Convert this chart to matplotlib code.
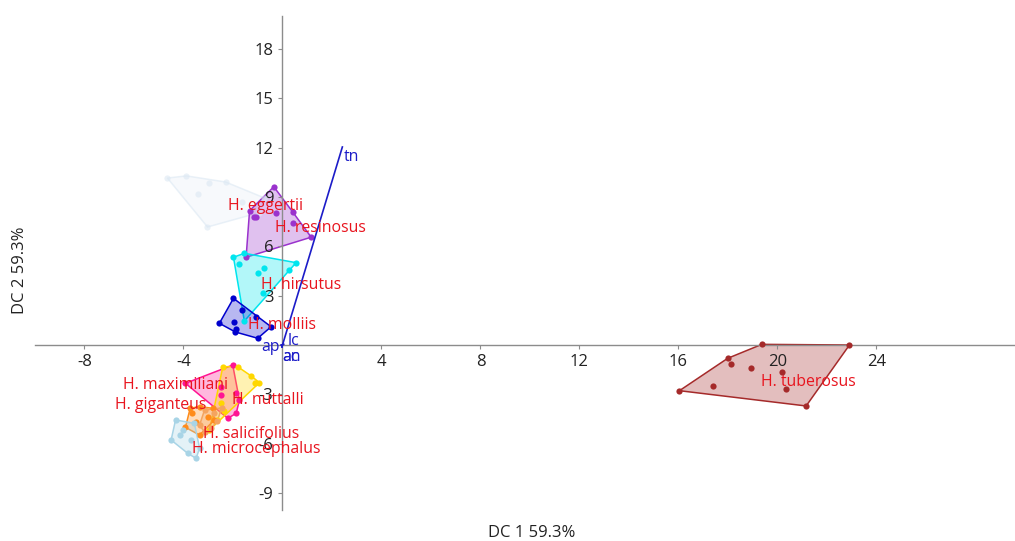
import numpy as np
import matplotlib
matplotlib.use("Agg")
import matplotlib.pyplot as plt

plt.rcParams['font.family'] = ['Open Sans', 'DejaVu Sans']
plt.rcParams['axes.unicode_minus'] = False

# Discriminant scores per taxon (DC 1, DC 2)
faint_x = [-4.65, -3.88, -2.30, -0.73, -3.03, -2.95, -3.43, -1.62, -0.95]
faint_y = [10.16, 10.29, 9.92, 8.95, 7.18, 9.86, 9.19, 8.70, 8.05]

eggertii_x = [-0.35, -1.33, -1.17, -1.05, -0.25, 0.42, 0.42, 1.16, -1.47]
eggertii_y = [9.63, 8.17, 7.81, 7.81, 8.02, 8.08, 7.41, 6.56, 5.34]

hirsutus_x = [-1.98, -1.54, -1.77, -0.73, -0.97, 0.55, 0.25, -0.80, -1.54]
hirsutus_y = [5.34, 5.58, 4.93, 4.67, 4.40, 5.01, 4.56, 3.18, 1.46]

molliis_x = [-1.98, -1.64, -1.06, -2.55, -1.94, -1.87, -1.90, -1.00, -0.46]
molliis_y = [2.84, 2.13, 1.72, 1.32, 1.42, 0.96, 0.79, 0.41, 1.11]

maximiliani_x = [-2.01, -3.92, -2.48, -2.48, -1.87, -1.74, -1.87, -2.21]
maximiliani_y = [-1.22, -2.33, -2.54, -3.04, -2.94, -3.35, -4.16, -4.46]

nuttalli_x = [-2.41, -1.81, -1.26, -1.09, -0.93, -2.48, -2.38, -2.63, -2.95]
nuttalli_y = [-1.32, -1.32, -1.89, -2.29, -2.29, -3.55, -4.02, -4.56, -5.17]

giganteus_x = [-3.73, -3.92, -3.35, -2.82, -3.35, -2.75, -3.02, -3.49, -3.64]
giganteus_y = [-3.85, -5.01, -3.75, -3.85, -5.48, -4.56, -4.36, -4.67, -4.14]

salicifolius_x = [-3.15, -2.75, -2.46, -2.63, -2.87, -3.15, -3.35]
salicifolius_y = [-3.96, -4.14, -3.83, -4.63, -5.05, -5.30, -4.87]

microcephalus_x = [-4.32, -4.50, -4.16, -3.83, -3.49, -3.69, -3.35, -3.56, -4.00]
microcephalus_y = [-4.56, -5.78, -5.48, -6.59, -6.90, -5.78, -6.27, -4.77, -5.17]

tuberosus_x = [19.37, 22.91, 17.99, 18.13, 18.94, 20.19, 20.35, 17.41, 16.04, 21.16]
tuberosus_y = [0.04, 0.00, -0.81, -1.16, -1.42, -1.66, -2.70, -2.50, -2.78, -3.71]

# (x, y, colour, fill alpha, point alpha)
groups = [
    (faint_x, faint_y, '#dce8f3', 0.22, 0.6),
    (eggertii_x, eggertii_y, '#9a32cd', 0.3, 1.0),
    (hirsutus_x, hirsutus_y, '#00e5ee', 0.3, 1.0),
    (molliis_x, molliis_y, '#0000cd', 0.28, 1.0),
    (maximiliani_x, maximiliani_y, '#ff1493', 0.3, 1.0),
    (nuttalli_x, nuttalli_y, '#ffd700', 0.3, 1.0),
    (giganteus_x, giganteus_y, '#ff8c1a', 0.3, 1.0),
    (salicifolius_x, salicifolius_y, '#f4a460', 0.3, 1.0),
    (microcephalus_x, microcephalus_y, '#a8d4e6', 0.3, 1.0),
    (tuberosus_x, tuberosus_y, '#a52a2a', 0.3, 1.0),
]

# Taxon labels (left edge, centre height)
labels = ['H. eggertii', 'H. resinosus', 'H. hirsutus', 'H. molliis', 'H. maximiliani',
          'H. giganteus', 'H. nuttalli', 'H. salicifolius', 'H. microcephalus', 'H. tuberosus']
label_x = [-2.22, -0.32, -0.85, -1.41, -6.46, -6.75, -2.02, -3.23, -3.64, 19.35]
label_y = [8.46, 7.12, 3.65, 1.22, -2.43, -3.65, -3.35, -5.42, -6.33, -2.25]

# Variable loadings
var_names = ['tn', 'ap', 'lc', 'an', 'ac']
var_x = [2.42, -0.05, 0.05, 0.0, 0.0]
var_y = [12.05, 0.0, 0.05, -0.1, -0.1]
var_lx = [2.46, -0.85, 0.20, 0.0, 0.0]
var_ly = [11.44, -0.12, 0.24, -0.73, -0.73]


def hull(xs, ys):
    pts = sorted(set(zip(xs, ys)))
    def cross(o, a, b):
        return (a[0] - o[0]) * (b[1] - o[1]) - (a[1] - o[1]) * (b[0] - o[0])
    lower, upper = [], []
    for p in pts:
        while len(lower) >= 2 and cross(lower[-2], lower[-1], p) <= 0:
            lower.pop()
        lower.append(p)
    for p in reversed(pts):
        while len(upper) >= 2 and cross(upper[-2], upper[-1], p) <= 0:
            upper.pop()
        upper.append(p)
    return np.array(lower[:-1] + upper[:-1])


fig = plt.figure(figsize=(10.15, 5.41), dpi=100)
ax = fig.add_axes([35 / 1015, 31 / 541, 980 / 1015, 494 / 541])

for xs, ys, col, a, pa in groups:
    h = hull(xs, ys)
    ax.fill(h[:, 0], h[:, 1], color=col, alpha=a, lw=0)
    ax.fill(h[:, 0], h[:, 1], facecolor='none', edgecolor=col, lw=1.1, alpha=pa)
    ax.scatter(xs, ys, s=20, color=col, zorder=3, lw=0, alpha=pa)

for name, lx, ly in zip(labels, label_x, label_y):
    ax.text(lx, ly, name, color='#e8141e', fontsize=11.4, ha='left', va='center', zorder=5)

for name, vx, vy, lx, ly in zip(var_names, var_x, var_y, var_lx, var_ly):
    ax.plot([0, vx], [0, vy], color='#1c1cc8', lw=1.2, zorder=4)
    ax.text(lx, ly, name, color='#1c1cc8', fontsize=11.4, ha='left', va='center', zorder=5)

ax.set_xlim(-10, 29.6)
ax.set_ylim(-10.04, 20.02)
for s in ['top', 'right']:
    ax.spines[s].set_visible(False)
ax.spines['left'].set_position(('data', 0))
ax.spines['bottom'].set_position(('data', 0))
for s in ['left', 'bottom']:
    ax.spines[s].set_color('#8c8c8c')
    ax.spines[s].set_linewidth(1.0)

ax.set_xticks([-8, -4, 4, 8, 12, 16, 20, 24])
ax.set_yticks([-9, -6, -3, 3, 6, 9, 12, 15, 18])
ax.tick_params(colors='#8c8c8c', labelcolor='#222222', labelsize=12, length=3, width=0.8)

fig.text(532 / 1015, 1 - 533 / 541, 'DC 1 59.3%', ha='center', va='center', fontsize=12, color='#222222')
fig.text(20 / 1015, 1 - 270 / 541, 'DC 2 59.3%', ha='center', va='center', rotation=90, fontsize=12, color='#222222')

fig.savefig('out.png', dpi=100)
